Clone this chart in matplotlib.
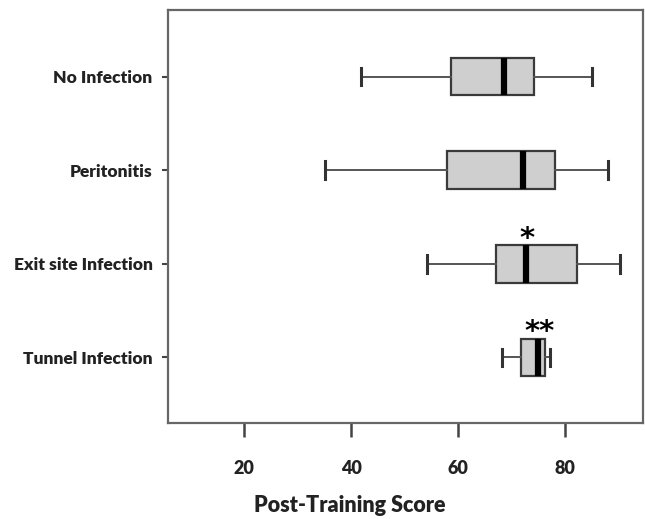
import matplotlib
matplotlib.use("Agg")
import matplotlib.pyplot as plt

categories = ["No Infection", "Peritonitis", "Exit site Infection", "Tunnel Infection"]
whislo = [41.9, 35.1, 54.2, 68.2]
q1 = [58.6, 58.0, 67.0, 71.7]
med = [68.5, 72.1, 72.6, 75.0]
q3 = [74.1, 78.1, 82.2, 76.3]
whishi = [85.1, 88.1, 90.2, 77.1]
marks = ["", "", "*", "**"]
xticks = [20, 40, 60, 80]

plt.rcParams['font.family'] = ['Lato', 'DejaVu Sans']

fig = plt.figure(figsize=(6.45, 5.19), dpi=100)
ax = fig.add_axes([0.2605, 0.185, 0.7360, 0.7957])

n = len(categories)
positions = [n - 1 - i for i in range(n)]
stats = []
for i in range(n):
    stats.append(dict(whislo=whislo[i], q1=q1[i], med=med[i], q3=q3[i],
                      whishi=whishi[i], fliers=[], label=categories[i]))

ax.bxp(stats, positions=positions, vert=False, widths=0.40, patch_artist=True,
       showfliers=False,
       boxprops=dict(facecolor="#cfcfcf", edgecolor="#3a3a3a", linewidth=1.6),
       medianprops=dict(color="black", linewidth=4.5, solid_capstyle="butt"),
       whiskerprops=dict(color="#555555", linewidth=1.4),
       capprops=dict(color="#333333", linewidth=2.2),
       capwidths=0.19)

for i in range(n):
    if marks[i]:
        ax.text(med[i] + 0.3, positions[i] + 0.27, marks[i], ha="center", va="center",
                fontsize=21, fontweight="bold", family="DejaVu Sans")

ax.set_xlim(5.8, 94.5)
ax.set_ylim(-0.70, 3.71)
ax.set_xticks(xticks)
ax.set_xticklabels([str(t) for t in xticks], fontsize=13, fontweight="heavy", color="#222222")
ax.set_yticks(positions)
ax.set_yticklabels(categories, fontsize=12.5, fontweight="heavy", color="#222222")
ax.tick_params(axis="x", direction="out", length=10, width=1.8, color="#444444", pad=17)
ax.tick_params(axis="y", direction="out", length=4, width=1.5, color="#444444", pad=7)
for s in ax.spines.values():
    s.set_color("#666666")
    s.set_linewidth(1.6)

fig.text(350 / 645, 1 - 505 / 519, "Post-Training Score", ha="center", va="center",
         fontsize=15.5, fontweight="heavy", color="#222222")

fig.savefig("out.png", dpi=100)
